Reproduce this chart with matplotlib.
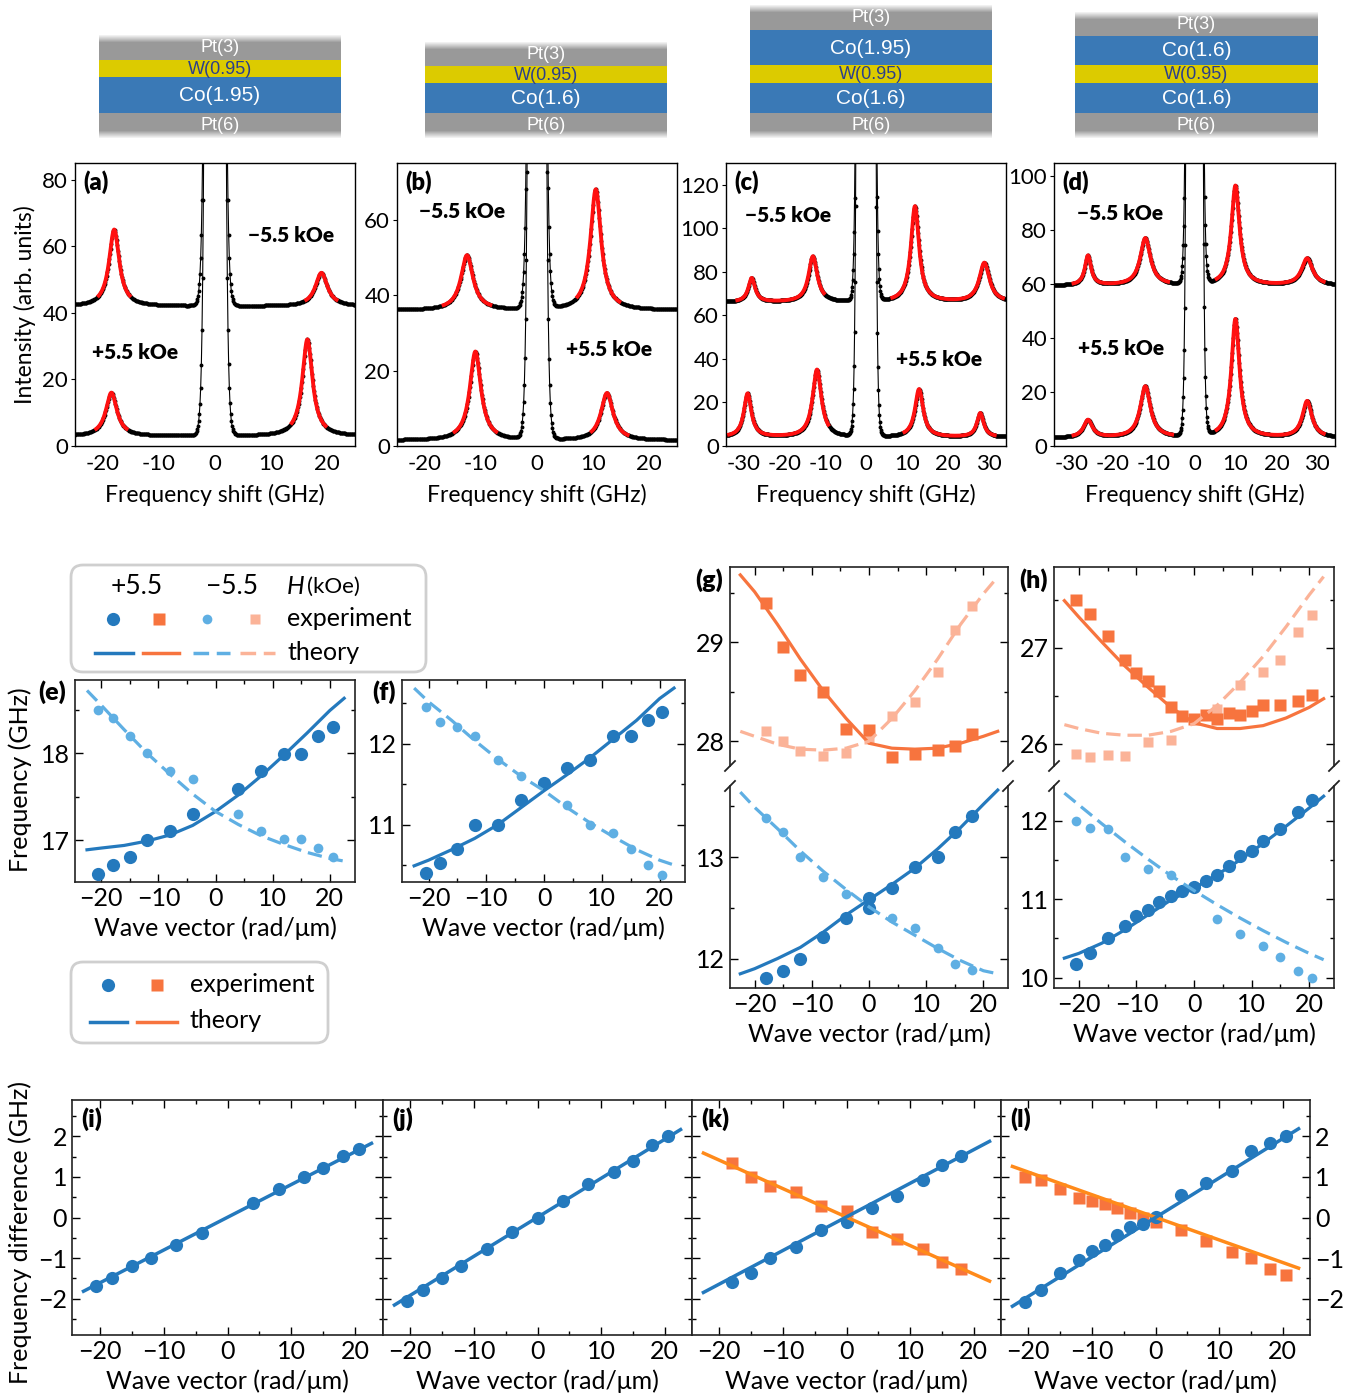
import numpy as np
import matplotlib
matplotlib.use('Agg')
import matplotlib.pyplot as plt
from matplotlib.patches import Rectangle, FancyBboxPatch
from matplotlib.ticker import MultipleLocator, FixedLocator, FixedFormatter

plt.rcParams['font.family'] = ['Lato', 'DejaVu Sans']

# ---------------- DATA ----------------
stack_labels = [["Pt(3)", "W(0.95)", "Co(1.95)", "Pt(6)"],
                ["Pt(3)", "W(0.95)", "Co(1.6)", "Pt(6)"],
                ["Pt(3)", "Co(1.95)", "W(0.95)", "Co(1.6)", "Pt(6)"],
                ["Pt(3)", "Co(1.6)", "W(0.95)", "Co(1.6)", "Pt(6)"]]

panel_letters_spec = ["(a)", "(b)", "(c)", "(d)"]
spec_xlim = [25, 25, 34.3, 34.3]
spec_ylim = [85, 75, 130, 105]
spec_yticks = [[0, 20, 40, 60, 80], [0, 20, 40, 60], [0, 20, 40, 60, 80, 100, 120], [0, 20, 40, 60, 80, 100]]
spec_xticks = [[-20, -10, 0, 10, 20], [-20, -10, 0, 10, 20],
               [-30, -20, -10, 0, 10, 20, 30], [-30, -20, -10, 0, 10, 20, 30]]

# -5.5 kOe spectra (upper)
base_neg = [42, 36, 66, 59.5]
cent_neg = [[-18.0, 19.0], [-12.5, 10.5], [-28, -13, 12, 29], [-26, -12, 10, 27.5]]
amp_neg = [[23, 10], [14.5, 32], [11, 21, 44, 18], [11, 17.5, 37, 10]]
wid_neg = [[1.1, 1.3], [1.3, 1.15], [1.0, 1.3, 1.2, 1.5], [0.9, 1.5, 1.2, 1.6]]
fit_neg = [[(-21, -15), (16, 22)], [(-17, -8), (7, 15)], [(-32, -10), (6, 34)], [(-30, -6), (5, 32)]]
# +5.5 kOe spectra (lower)
base_pos = [3, 1.5, 4, 3]
cent_pos = [[-18.5, 16.5], [-11, 12.5], [-29, -12, 13, 28], [-26, -12, 10, 27.5]]
amp_pos = [[13, 29], [23.5, 12.5], [20, 31, 22, 11], [6.5, 19, 44, 13.5]]
wid_pos = [[1.2, 1.1], [1.2, 1.3], [1.1, 1.3, 1.2, 1.0], [1.3, 1.5, 1.2, 1.4]]
fit_pos = [[(-21.5, -15.5), (13.5, 20)], [(-15, -7), (9.5, 16.5)], [(-34, -9), (9, 32)], [(-30, -5), (5, 32)]]
rayleigh_gap = [1.6, 1.3, 2.2, 1.8]

# dispersion (e)
k_e = [-20.5, -18, -15, -12, -8, -4, 4, 8, 12, 15, 18, 20.5]
e_pos = [16.61, 16.71, 16.81, 17.00, 17.11, 17.30, 17.59, 17.80, 17.99, 17.99, 18.20, 18.30]
e_neg = [18.50, 18.40, 18.20, 18.00, 17.80, 17.70, 17.30, 17.11, 17.01, 17.01, 16.91, 16.81]
k_th = [-22.5, -20, -16, -12, -8, -4, 0, 4, 8, 12, 16, 20, 22.5]
e_th_pos = [16.89, 16.91, 16.94, 16.99, 17.06, 17.17, 17.33, 17.52, 17.74, 17.98, 18.23, 18.49, 18.63]
e_th_neg = [18.72, 18.55, 18.27, 18.00, 17.76, 17.53, 17.33, 17.18, 17.05, 16.95, 16.86, 16.79, 16.76]
# (f)
k_f = [-20.5, -18, -15, -12, -8, -4, 0, 4, 8, 12, 15, 18, 20.5]
f_pos = [10.40, 10.52, 10.70, 11.00, 11.00, 11.30, 11.51, 11.70, 11.80, 12.10, 12.10, 12.30, 12.40]
k_f_neg = [-20.5, -18, -15, -12, -8, -4, 4, 8, 12, 15, 18, 20.5]
f_neg = [12.45, 12.27, 12.21, 12.10, 11.80, 11.60, 11.24, 11.00, 10.90, 10.70, 10.50, 10.38]
f_th_pos = [10.49, 10.56, 10.69, 10.83, 11.00, 11.21, 11.42, 11.62, 11.83, 12.06, 12.29, 12.56, 12.69]
f_th_neg = [12.69, 12.52, 12.29, 12.04, 11.81, 11.60, 11.42, 11.21, 11.02, 10.85, 10.69, 10.56, 10.50]
# (g)
k_g = [-18, -15, -12, -8, -4, 0, 4, 8, 12, 15, 18]
g_top_pos = [29.40, 28.95, 28.67, 28.50, 28.12, 28.11, 27.84, 27.87, 27.91, 27.95, 28.07]
g_top_neg = [28.10, 28.00, 27.90, 27.85, 27.88, 28.02, 28.25, 28.40, 28.70, 29.12, 29.37]
k_g_bp = [-18, -15, -12, -8, -4, 0, 0, 4, 8, 12, 15, 18]
g_bot_pos = [11.81, 11.88, 12.00, 12.21, 12.40, 12.60, 12.50, 12.70, 12.90, 13.00, 13.25, 13.40]
g_bot_neg = [13.38, 13.25, 13.00, 12.80, 12.64, 12.52, 12.40, 12.30, 12.10, 11.95, 11.89]
g_th_top_pos = [29.68, 29.51, 29.18, 28.83, 28.51, 28.23, 27.98, 27.93, 27.92, 27.93, 27.98, 28.05, 28.10]
g_th_top_neg = [28.10, 28.05, 27.97, 27.92, 27.91, 27.93, 28.00, 28.23, 28.51, 28.83, 29.18, 29.49, 29.66]
g_th_bot_pos = [11.85, 11.90, 12.00, 12.11, 12.26, 12.43, 12.58, 12.73, 12.89, 13.08, 13.29, 13.52, 13.66]
g_th_bot_neg = [13.64, 13.49, 13.28, 13.06, 12.86, 12.68, 12.51, 12.36, 12.23, 12.10, 11.98, 11.88, 11.85]
# (h)
k_h = [-20.5, -18, -15, -12, -10, -8, -6, -4, -2, 0, 2, 4, 6, 8, 10, 12, 15, 18, 20.5]
h_top_pos = [27.50, 27.35, 27.12, 26.87, 26.74, 26.65, 26.55, 26.38, 26.29, 26.26, 26.30, 26.26, 26.32,
             26.30, 26.34, 26.40, 26.40, 26.45, 26.51]
k_h_neg = [-20.5, -18, -15, -12, -8, -4, 4, 8, 12, 15, 18, 20.5]
h_top_neg = [25.89, 25.86, 25.88, 25.87, 26.02, 26.04, 26.36, 26.61, 26.75, 26.87, 27.16, 27.34]
h_bot_pos = [10.17, 10.32, 10.51, 10.66, 10.78, 10.86, 10.96, 11.04, 11.10, 11.16, 11.23, 11.31, 11.42,
             11.55, 11.61, 11.74, 11.89, 12.11, 12.26]
h_bot_neg = [12.00, 11.91, 11.89, 11.54, 11.39, 11.31, 10.75, 10.56, 10.41, 10.26, 10.09, 10.00]
h_th_top_pos = [27.49, 27.32, 27.06, 26.81, 26.59, 26.38, 26.22, 26.16, 26.16, 26.19, 26.27, 26.38, 26.47]
h_th_top_neg = [26.20, 26.16, 26.11, 26.09, 26.09, 26.13, 26.21, 26.40, 26.64, 26.91, 27.22, 27.55, 27.74]
h_th_bot_pos = [10.25, 10.31, 10.44, 10.61, 10.80, 10.99, 11.14, 11.31, 11.50, 11.71, 11.93, 12.16, 12.31]
h_th_bot_neg = [12.35, 12.20, 11.96, 11.73, 11.51, 11.30, 11.11, 10.93, 10.76, 10.60, 10.45, 10.31, 10.23]

# frequency differences (i)-(l)
k_fit = [-22.5, 22.5]
k_i = [-20.5, -18, -15, -12, -8, -4, 4, 8, 12, 15, 18, 20.5]
i_blue = [-1.69, -1.50, -1.19, -0.99, -0.69, -0.39, 0.37, 0.70, 1.00, 1.21, 1.51, 1.69]
i_blue_fit = [-1.82, 1.83]
k_j = [-20.5, -18, -15, -12, -8, -4, 0, 4, 8, 12, 15, 18, 20.5]
j_blue = [-2.06, -1.78, -1.49, -1.19, -0.78, -0.35, 0.00, 0.41, 0.83, 1.12, 1.40, 1.80, 2.02]
j_blue_fit = [-2.16, 2.17]
k_k = [-18, -15, -12, -8, -4, 0, 4, 8, 12, 15, 18]
k_blue = [-1.60, -1.36, -0.99, -0.74, -0.31, -0.10, 0.23, 0.52, 0.92, 1.30, 1.51]
k_orange = [1.35, 1.00, 0.77, 0.63, 0.29, 0.15, -0.36, -0.54, -0.78, -1.11, -1.28]
k_blue_fit = [-1.85, 1.88]
k_orange_fit = [1.59, -1.57]
k_l = [-20.5, -18, -15, -12, -10, -8, -6, -4, -2, 0, 4, 8, 12, 15, 18, 20.5]
l_blue = [-2.08, -1.78, -1.36, -1.06, -0.82, -0.68, -0.43, -0.24, -0.16, 0.02, 0.56, 0.85, 1.16, 1.63, 1.84, 2.00]
l_orange = [1.00, 0.92, 0.70, 0.48, 0.40, 0.33, 0.23, 0.12, 0.00, -0.10, -0.32, -0.58, -0.86, -0.99, -1.27, -1.42]
l_blue_fit = [-2.19, 2.19]
l_orange_fit = [1.26, -1.25]

# ---------------- STYLE ----------------
C_BLUE = '#2479bd'
C_LBLUE = '#5fafe3'
C_OR = '#f7743e'
C_LOR = '#fbb398'
C_OR2 = '#ff8a1a'
C_RED = '#ff1010'
FS = 18
W, H = 1365, 1397
fig = plt.figure(figsize=(W / 100, H / 100), dpi=100)

bg = fig.add_axes([0, 0, 1, 1])
bg.set_xlim(0, W)
bg.set_ylim(H, 0)
bg.axis('off')


def ax_px(l, t, r, b):
    return fig.add_axes([l / W, 1 - b / H, (r - l) / W, (b - t) / H])


# ---------------- layer stacks ----------------
stack_x = [(99, 341), (425, 667), (750, 992), (1075, 1318)]
stack_bounds = [[35, 60, 77, 113, 138], [42, 66, 83, 113, 138],
                [5, 30, 65, 83, 113, 138], [12, 36, 65, 83, 113, 138]]
layer_color = {'Pt': '#999999', 'W': '#dccb00', 'Co': '#3a79b6'}
for (x0, x1), labs, bnds in zip(stack_x, stack_labels, stack_bounds):
    for i, lab in enumerate(labs):
        t, b = bnds[i], bnds[i + 1]
        key = lab.split('(')[0]
        bg.add_patch(Rectangle((x0, t), x1 - x0, b - t, color=layer_color[key], lw=0))
        tc = '#2b3f8c' if key == 'W' else 'white'
        size = 15 if key == 'Co' else 13
        bg.text((x0 + x1) / 2, (t + b) / 2 + 0.5, lab, ha='center', va='center', color=tc,
                fontsize=size, family=['Liberation Sans', 'DejaVu Sans'])
    # soft fading edges
    for i in range(7):
        a = 1 - (i + 1) / 8
        bg.add_patch(Rectangle((x0, bnds[0] + i), x1 - x0, 1, color='white', alpha=a, lw=0))
        bg.add_patch(Rectangle((x0, bnds[-1] - i - 1), x1 - x0, 1, color='white', alpha=a, lw=0))


# ---------------- spectra ----------------
def lorentz(f, base, cents, amps, wids):
    y = np.full_like(f, float(base))
    for c, a, w in zip(cents, amps, wids):
        y += a * w ** 2 / ((f - c) ** 2 + w ** 2)
    return y


spec_boxes = [(75, 163, 355, 446), (397, 163, 677, 446), (726, 163, 1006, 446), (1054, 163, 1335, 446)]
neg_txt_pos = [(0.77, 0.745), (0.232, 0.83), (0.221, 0.816), (0.235, 0.823)]
pos_txt_pos = [(0.214, 0.332), (0.757, 0.34), (0.76, 0.307), (0.238, 0.346)]
for p in range(4):
    ax = ax_px(*spec_boxes[p])
    xm = spec_xlim[p]
    gap = rayleigh_gap[p]
    for base, cents, amps, wids, fits in [(base_neg[p], cent_neg[p], amp_neg[p], wid_neg[p], fit_neg[p]),
                                          (base_pos[p], cent_pos[p], amp_pos[p], wid_pos[p], fit_pos[p])]:
        for side in (-1, 1):
            f = side * np.arange(gap, xm + 0.12, 0.12)
            y = lorentz(f, base, cents, amps, wids) + 350 * np.exp(-(np.abs(f) - gap) / 0.3)
            ax.plot(f, y, color='black', lw=0.8, zorder=2)
            ax.plot(f, y, 'o', ms=1.8, color='black', zorder=2)
        for (f0, f1) in fits:
            ff = np.linspace(f0, f1, 300)
            ax.plot(ff, lorentz(ff, base, cents, amps, wids), color=C_RED, lw=2.8, zorder=3,
                    solid_capstyle='butt')
    ax.set_xlim(-xm, xm)
    ax.set_ylim(0, spec_ylim[p])
    ax.xaxis.set_major_locator(FixedLocator(spec_xticks[p]))
    ax.xaxis.set_major_formatter(FixedFormatter([str(v) for v in spec_xticks[p]]))
    ax.yaxis.set_major_locator(FixedLocator(spec_yticks[p]))
    ax.yaxis.set_major_formatter(FixedFormatter([str(v) for v in spec_yticks[p]]))
    ax.tick_params(axis='y', direction='out', length=3, width=0.8, labelsize=16, pad=2)
    ax.tick_params(axis='x', length=0, labelsize=16, pad=6)
    for s in ax.spines.values():
        s.set_linewidth(1.0)
    ax.set_xlabel('Frequency shift (GHz)', fontsize=16.5, labelpad=7)
    ax.text(0.03, 0.975, panel_letters_spec[p], transform=ax.transAxes, fontsize=17, fontweight='heavy',
            va='top', ha='left')
    ax.text(*neg_txt_pos[p], '\u22125.5 kOe', transform=ax.transAxes, fontsize=15, fontweight='heavy',
            ha='center', va='center')
    ax.text(*pos_txt_pos[p], '+5.5 kOe', transform=ax.transAxes, fontsize=15, fontweight='heavy',
            ha='center', va='center')
bg.text(25, 305, 'Intensity (arb. units)', rotation=90, ha='center', va='center', fontsize=16.5)


# ---------------- helpers ----------------
def style_in(ax, xmaj=10, xmin=5, ymaj=1, ymin=0.5, top=True, bottom=True):
    ax.xaxis.set_major_locator(MultipleLocator(xmaj))
    ax.xaxis.set_minor_locator(MultipleLocator(xmin))
    ax.yaxis.set_major_locator(MultipleLocator(ymaj))
    ax.yaxis.set_minor_locator(MultipleLocator(ymin))
    ax.tick_params(which='both', direction='in', top=top, bottom=bottom, right=True, left=True,
                   labelsize=FS, width=1.0)
    ax.tick_params(which='major', length=6)
    ax.tick_params(which='minor', length=3)
    for s in ax.spines.values():
        s.set_linewidth(1.2)
        s.set_color('#222222')


MS_D, MS_L, MS_S = 9.5, 7.0, 8.5
DASH = (4.5, 2.2)

# (e) and (f)
for (l, r), kp, vp, kn, vn, tp, tn, yl in [((75, 355), k_e, e_pos, k_e, e_neg, e_th_pos, e_th_neg, (16.52, 18.84)),
                                             ((402, 685), k_f, f_pos, k_f_neg, f_neg, f_th_pos, f_th_neg, (10.29, 12.79))]:
    ax = ax_px(l, 680, r, 882)
    ax.plot(kn, vn, 'o', ms=MS_L, color=C_LBLUE, mec='none', zorder=2)
    ax.plot(kp, vp, 'o', ms=MS_D, color=C_BLUE, mec='none', zorder=3)
    ax.plot(k_th, tp, '-', color=C_BLUE, lw=2.3, zorder=4)
    ax.plot(k_th, tn, '--', color=C_LBLUE, lw=2.3, dashes=DASH, zorder=4)
    ax.set_xlim(-24.6, 24.4)
    ax.set_ylim(*yl)
    style_in(ax)
    ax.set_xlabel('Wave vector (rad/\u03bcm)', fontsize=FS, labelpad=5)
bg.text(52, 692, '(e)', ha='center', va='center', fontsize=18, fontweight='heavy')
bg.text(384, 692, '(f)', ha='center', va='center', fontsize=18, fontweight='heavy')
bg.text(20, 780, 'Frequency (GHz)', rotation=90, ha='center', va='center', fontsize=FS)


# (g) and (h) broken axes
def broken(l, r, ylt, ylb, tp_k, tp_v, tn_k, tn_v, bp_k, bp_v, bn_k, bn_v, th_tp, th_tn, th_bp, th_bn):
    at = ax_px(l, 567, r, 766)
    ab = ax_px(l, 786, r, 988)
    at.plot(tn_k, tn_v, 's', ms=7.0, color=C_LOR, mec='none', zorder=2)
    at.plot(tp_k, tp_v, 's', ms=MS_S, color=C_OR, mec='none', zorder=3)
    at.plot(k_th, th_tp, '-', color=C_OR, lw=2.3, zorder=4)
    at.plot(k_th, th_tn, '--', color=C_LOR, lw=2.3, dashes=DASH, zorder=4)
    ab.plot(bn_k, bn_v, 'o', ms=MS_L, color=C_LBLUE, mec='none', zorder=2)
    ab.plot(bp_k, bp_v, 'o', ms=MS_D, color=C_BLUE, mec='none', zorder=3)
    ab.plot(k_th, th_bp, '-', color=C_BLUE, lw=2.3, zorder=4)
    ab.plot(k_th, th_bn, '--', color=C_LBLUE, lw=2.3, dashes=DASH, zorder=4)
    for a, yl in ((at, ylt), (ab, ylb)):
        a.set_xlim(-24.3, 24.3)
        a.set_ylim(*yl)
    style_in(at, bottom=False)
    style_in(ab, top=False)
    at.spines['bottom'].set_visible(False)
    ab.spines['top'].set_visible(False)
    at.tick_params(labelbottom=False)
    ab.set_xlabel('Wave vector (rad/\u03bcm)', fontsize=FS, labelpad=5)
    wpx, hpx = r - l, 200
    dx, dy = 5 / wpx, 5 / hpx
    kw = dict(color='#222222', lw=1.3, clip_on=False)
    for xx in (0, 1):
        at.plot([xx - dx, xx + dx], [-dy, dy], transform=at.transAxes, **kw)
        ab.plot([xx - dx, xx + dx], [1 - dy, 1 + dy], transform=ab.transAxes, **kw)


broken(730, 1008, (27.75, 29.76), (11.71, 13.70), k_g, g_top_pos, k_g, g_top_neg, k_g_bp, g_bot_pos,
       k_g, g_bot_neg, g_th_top_pos, g_th_top_neg, g_th_bot_pos, g_th_bot_neg)
broken(1054, 1334, (25.77, 27.84), (9.87, 12.44), k_h, h_top_pos, k_h_neg, h_top_neg, k_h, h_bot_pos,
       k_h_neg, h_bot_neg, h_th_top_pos, h_th_top_neg, h_th_bot_pos, h_th_bot_neg)
bg.text(709, 580, '(g)', ha='center', va='center', fontsize=18, fontweight='heavy')
bg.text(1034, 580, '(h)', ha='center', va='center', fontsize=18, fontweight='heavy')

# ---------------- (i)-(l) ----------------
diff_x = [(72, 383), (383, 692), (692, 1001), (1001, 1310)]
diff_sets = [
    ("(i)", [(k_i, i_blue, i_blue_fit, 'o', C_BLUE, C_BLUE)]),
    ("(j)", [(k_j, j_blue, j_blue_fit, 'o', C_BLUE, C_BLUE)]),
    ("(k)", [(k_k, k_orange, k_orange_fit, 's', C_OR, C_OR2), (k_k, k_blue, k_blue_fit, 'o', C_BLUE, C_BLUE)]),
    ("(l)", [(k_l, l_orange, l_orange_fit, 's', C_OR, C_OR2), (k_l, l_blue, l_blue_fit, 'o', C_BLUE, C_BLUE)]),
]
for idx, ((l, r), (lab, series)) in enumerate(zip(diff_x, diff_sets)):
    ax = ax_px(l, 1100, r, 1335)
    for kk, vv, fit, mk, mc, lc in series:
        ax.plot(kk, vv, mk, ms=MS_S if mk == 's' else MS_D, color=mc, mec='none', zorder=2)
        ax.plot(k_fit, fit, '-', color=lc, lw=2.5, zorder=3)
    ax.set_xlim(-24.3, 24.3)
    ax.set_ylim(-2.9, 2.9)
    style_in(ax)
    ax.tick_params(labelleft=(idx == 0), labelright=(idx == 3))
    ax.set_xlabel('Wave vector (rad/\u03bcm)', fontsize=FS, labelpad=5)
    ax.text(0.03, 0.97, lab, transform=ax.transAxes, fontsize=18, fontweight='heavy', va='top', ha='left')
bg.text(20, 1233, 'Frequency difference (GHz)', rotation=90, ha='center', va='center', fontsize=FS)

# ---------------- legends ----------------
bg.add_patch(FancyBboxPatch((71, 565), 355, 107, boxstyle='round,pad=0,rounding_size=12',
                            ec='#cfcfcf', fc='white', lw=2, zorder=5))
bg.text(137, 586, '+5.5', ha='center', va='center', fontsize=19, zorder=6)
bg.text(232, 586, '\u22125.5', ha='center', va='center', fontsize=19, zorder=6)
bg.text(287, 587, 'H', ha='left', va='center', fontsize=18, style='italic', zorder=6)
bg.text(307, 587, '(kOe)', ha='left', va='center', fontsize=16, zorder=6)
bg.plot([113], [619], 'o', ms=MS_D, color=C_BLUE, mec='none', zorder=6)
bg.plot([159], [619], 's', ms=MS_S, color=C_OR, mec='none', zorder=6)
bg.plot([207], [619], 'o', ms=MS_L, color=C_LBLUE, mec='none', zorder=6)
bg.plot([255], [619], 's', ms=7.0, color=C_LOR, mec='none', zorder=6)
bg.text(287, 618, 'experiment', ha='left', va='center', fontsize=FS, zorder=6)
bg.plot([95, 133], [653, 653], '-', color=C_BLUE, lw=2.5, zorder=6)
bg.plot([143, 179], [653, 653], '-', color=C_OR, lw=2.5, zorder=6)
bg.plot([193, 230], [653, 653], '--', color=C_LBLUE, lw=2.5, dashes=DASH, zorder=6)
bg.plot([240, 275], [653, 653], '--', color=C_LOR, lw=2.5, dashes=DASH, zorder=6)
bg.text(287, 652, 'theory', ha='left', va='center', fontsize=FS, zorder=6)

bg.add_patch(FancyBboxPatch((71, 962), 257, 81, boxstyle='round,pad=0,rounding_size=12',
                            ec='#cfcfcf', fc='white', lw=2, zorder=5))
bg.plot([108], [985], 'o', ms=MS_D, color=C_BLUE, mec='none', zorder=6)
bg.plot([157], [985], 's', ms=MS_S, color=C_OR, mec='none', zorder=6)
bg.text(190, 984, 'experiment', ha='left', va='center', fontsize=FS, zorder=6)
bg.plot([90, 127], [1022, 1022], '-', color=C_BLUE, lw=2.5, zorder=6)
bg.plot([137, 177], [1022, 1022], '-', color=C_OR, lw=2.5, zorder=6)
bg.text(190, 1021, 'theory', ha='left', va='center', fontsize=FS, zorder=6)

fig.savefig('out.png', dpi=100)
